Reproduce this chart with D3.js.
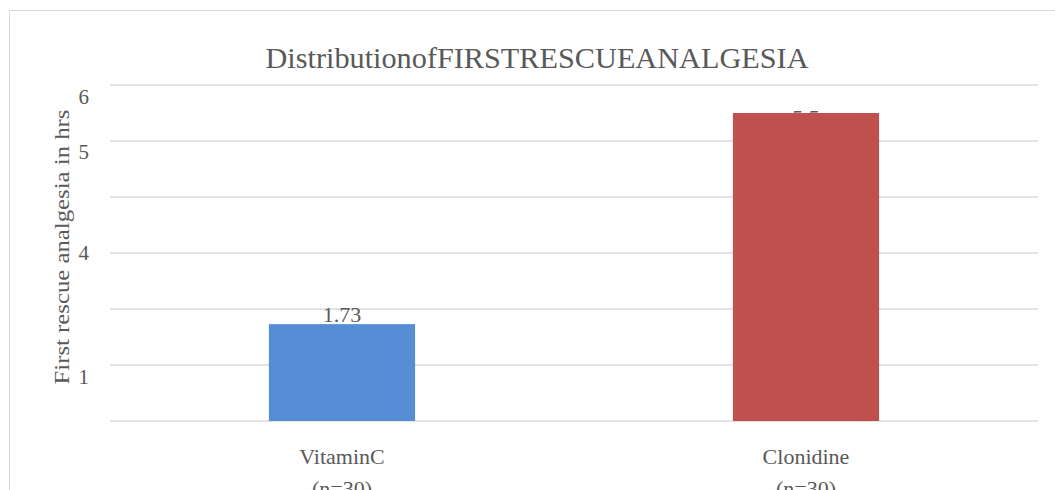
<!DOCTYPE html>
<html lang="en">
<head>
    <meta charset="UTF-8">
    <title>First rescue analgesia</title>
    <script src="https://d3js.org/d3.v7.min.js"></script>
    <style>
        body { margin: 0; background: #fff; }
        text { font-family: "Liberation Serif", "DejaVu Serif", serif; fill: #595959; }
    </style>
</head>
<body>
<svg id="viz"></svg>

<script>
    // chart data
    var categories = ['VitaminC', 'Clonidine'];
    var subLabels = ['(n=30)', '(n=30)'];
    var values = [1.73, 5.5];
    var valueLabels = ['1.73', '5.5'];
    var colors = ['#558ed5', '#c0504d'];

    // the y axis labels sit oddly in the source, keep them where they are
    var tickLabels = ['6', '5', '4', '1'];
    var tickAt = [5.79, 4.8, 3.0, 0.79];
    var gridValues = [0, 1, 2, 3, 4, 5, 6];

    var width = 1055, height = 490;
    var svg = d3.select('#viz')
        .attr('width', width)
        .attr('height', height);

    // outer chart border
    svg.append('rect')
        .attr('x', 9.5).attr('y', 10.5)
        .attr('width', 1060).attr('height', 500)
        .attr('fill', 'none')
        .attr('stroke', '#d9d9d9');

    var x = d3.scaleBand()
        .domain(categories)
        .range([110, 1038]);

    var y = d3.scaleLinear()
        .domain([0, 6])
        .range([421, 85]);

    var barW = x.bandwidth() * 0.315;

    // gridlines
    svg.selectAll('.grid')
        .data(gridValues)
        .enter()
        .append('line')
        .attr('class', 'grid')
        .attr('x1', 110).attr('x2', 1038)
        .attr('y1', function (d) { return y(d); })
        .attr('y2', function (d) { return y(d); })
        .attr('stroke', '#d9d9d9')
        .attr('stroke-width', 1.5);

    // y labels
    svg.selectAll('.ytick')
        .data(tickLabels)
        .enter()
        .append('text')
        .attr('class', 'ytick')
        .attr('x', 89)
        .attr('y', function (d, i) { return y(tickAt[i]); })
        .attr('dy', '0.34em')
        .attr('text-anchor', 'end')
        .attr('font-size', 21)
        .text(function (d) { return d; });

    // value labels (drawn first, the tall bar hides most of its label)
    svg.selectAll('.vlabel')
        .data(values)
        .enter()
        .append('text')
        .attr('class', 'vlabel')
        .attr('x', function (d, i) { return x(categories[i]) + x.bandwidth() / 2; })
        .attr('y', function (d, i) { return i === 0 ? y(d) - 2 : y(d) + 12; })
        .attr('text-anchor', 'middle')
        .attr('font-size', 22)
        .text(function (d, i) { return valueLabels[i]; });

    // bars
    svg.selectAll('.bar')
        .data(values)
        .enter()
        .append('rect')
        .attr('class', 'bar')
        .attr('x', function (d, i) { return x(categories[i]) + x.bandwidth() / 2 - barW / 2; })
        .attr('y', function (d) { return y(d); })
        .attr('width', barW)
        .attr('height', function (d) { return y(0) - y(d); })
        .attr('fill', function (d, i) { return colors[i]; });

    // category labels
    var cat = svg.selectAll('.cat')
        .data(categories)
        .enter()
        .append('text')
        .attr('class', 'cat')
        .attr('x', function (d) { return x(d) + x.bandwidth() / 2; })
        .attr('y', 464)
        .attr('text-anchor', 'middle')
        .attr('font-size', 22);
    cat.append('tspan').text(function (d) { return d; });
    cat.append('tspan')
        .attr('x', function (d) { return x(d) + x.bandwidth() / 2; })
        .attr('dy', 32)
        .text(function (d, i) { return subLabels[i]; });

    // title
    svg.append('text')
        .attr('x', 537)
        .attr('y', 68)
        .attr('text-anchor', 'middle')
        .attr('font-size', 29)
        .attr('textLength', 543)
        .attr('lengthAdjust', 'spacingAndGlyphs')
        .text('DistributionofFIRSTRESCUEANALGESIA');

    // y axis title
    svg.append('text')
        .attr('transform', 'translate(69,247) rotate(-90)')
        .attr('text-anchor', 'middle')
        .attr('font-size', 22)
        .attr('textLength', 275)
        .attr('lengthAdjust', 'spacingAndGlyphs')
        .text('First rescue analgesia in hrs');
</script>
</body>
</html>
